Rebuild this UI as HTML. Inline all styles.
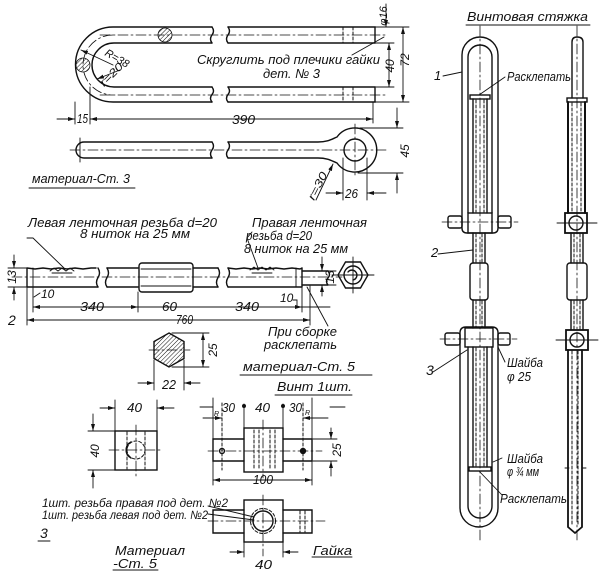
<!DOCTYPE html>
<html><head><meta charset="utf-8"><style>
html,body{margin:0;padding:0;background:#fff;}
svg{display:block;}
text{font-family:"Liberation Sans","DejaVu Sans",sans-serif;font-style:italic;fill:#111;stroke:none;}
.c{stroke-dasharray:10 3 2 3;stroke-width:0.8;}
.d{stroke-dasharray:3 2;stroke-width:1;}
.th{stroke-width:0.9;}
</style></head><body>
<svg width="604" height="579" viewBox="0 0 604 579" xmlns="http://www.w3.org/2000/svg">
<defs>
<marker id="ar" markerUnits="userSpaceOnUse" markerWidth="8" markerHeight="6" refX="7" refY="2" orient="auto-start-reverse"><path d="M0,0 L7,2 L0,4 z" fill="#111"/></marker>
<pattern id="hat" patternUnits="userSpaceOnUse" width="3" height="3" patternTransform="rotate(45)"><line x1="0" y1="0" x2="0" y2="3" stroke="#111" stroke-width="1"/></pattern>
</defs>
<g fill="none" stroke="#111" stroke-width="1.4" stroke-linecap="round">

<!-- ===== Part 1 U-bolt top view ===== -->
<path d="M212,27 H113 A37.5,37.5 0 0 0 113,102 H212"/>
<path d="M212,43 H114 A22,22 0 0 0 114,87 H212"/>
<path d="M212,27 q3,4 0,8 q-3,4 0,8 M212,87 q3,4 0,7.5 q-3,4 0,7.5"/>
<path d="M228,27 q3,4 0,8 q-3,4 0,8 M228,87 q3,4 0,7.5 q-3,4 0,7.5"/>
<path d="M228,27 H375 V43 H228 M228,87 H375 V102 H228"/>
<path class="d" d="M343,27 V43 M353,27 V43 M343,87 V102 M353,87 V102"/>
<path class="c" d="M100,35 H386 M100,95 H386 M113,35 A30,30 0 0 0 113,95"/>
<circle cx="165" cy="35" r="7" fill="url(#hat)" stroke-width="0.8"/>
<circle cx="83" cy="65" r="7" fill="url(#hat)" stroke-width="0.8"/>
<path class="th" d="M113,65 L81,50" marker-end="url(#ar)"/>
<path class="th" d="M120,70 L97,79" marker-end="url(#ar)"/>
<path class="th" d="M75,102 V124 M90,87 V124 M373,102 V123"/>
<path class="th" d="M57,119 H75" marker-end="url(#ar)"/>
<path class="th" d="M90,119 H373" marker-start="url(#ar)" marker-end="url(#ar)"/>
<path class="th" d="M375,27 H409 M375,102 H409 M376,43 H394 M376,87 H394"/>
<path class="th" d="M389,43 V87" marker-start="url(#ar)" marker-end="url(#ar)"/>
<path class="th" d="M403,27 V102" marker-start="url(#ar)" marker-end="url(#ar)"/>
<path class="th" d="M386,4 V27" marker-end="url(#ar)"/>
<path class="th" d="M352,55 L384,37"/>

<!-- ===== eye bolt ===== -->
<path d="M212,142 H84 A8,8 0 0 0 84,158 H212"/>
<path d="M212,142 q3,4 0,8 q-3,4 0,8 M228,142 q3,4 0,8 q-3,4 0,8"/>
<path d="M228,142 H318 C328,142 332,139 337,137 A22,22 0 1 1 337,163 C332,161 328,158 318,158 H228"/>
<circle cx="355" cy="150" r="11"/>
<path class="c" d="M70,150 H386 M355,124 V178"/>
<path class="th" d="M80,138 V162"/>
<path class="th" d="M360,128 H403 M358,173 H403"/>
<path class="th" d="M397,108 V128" marker-end="url(#ar)"/>
<path class="th" d="M397,193 V173" marker-end="url(#ar)"/>
<path class="th" d="M343,158 V200 M367,158 V200"/>
<path class="th" d="M326,193 H343" marker-end="url(#ar)"/>
<path class="th" d="M386,193 H367" marker-end="url(#ar)"/>
<path class="th" d="M316,200 L333,164" marker-end="url(#ar)"/>
<path class="th" d="M29,188 H135"/>

<!-- ===== Part 2 rod ===== -->
<path d="M27,268 l8,1 l8,-1 l8,1 l8,-1 l8,1 l8,-1 l8,1 l8,-1 l5,0 M27,287 H98 M27,268 V287"/>
<path class="th" d="M33,268 V287"/>
<path class="th" d="M50,271 l4,-3 l4,3 l4,-3 l4,3 l4,-3 l4,3 M52,273 h20"/>
<path d="M98,268 q3,5 0,9.5 q-3,5 0,9.5 M107,268 q3,5 0,9.5 q-3,5 0,9.5"/>
<path d="M107,268 H138 M107,287 H138"/>
<rect x="139" y="263" width="54" height="29" rx="3"/>
<path class="th" d="M141,269 H191 M141,286 H191"/>
<path d="M193,268 H218 M193,287 H218"/>
<path d="M218,268 q3,5 0,9.5 q-3,5 0,9.5 M228,268 q3,5 0,9.5 q-3,5 0,9.5"/>
<path d="M228,268 l8,1 l8,-1 l8,1 l8,-1 l8,1 l8,-1 l8,1 l8,-1 l8,1 l2,-1 M228,287 H302 M302,268 V287"/>
<path class="th" d="M296,268 V287"/>
<path class="th" d="M250,270 l4,-3 l4,3 l4,-3 l4,3 l4,-3 l4,3 M252,273 h20"/>
<path d="M302,271 H328 M302,285 H328 M328,271 q3,3.5 0,7 q-3,3.5 0,7"/>
<path class="c" d="M12,277 H342"/>
<path class="th" d="M8,268 H27 M8,287 H27"/>
<path class="th" d="M14,255 V268" marker-end="url(#ar)"/>
<path class="th" d="M14,300 V287" marker-end="url(#ar)"/>
<path class="th" d="M315,271 H336 M315,285 H336"/>
<path class="th" d="M322,257 V271" marker-end="url(#ar)"/>
<path class="th" d="M322,296 V285" marker-end="url(#ar)"/>
<path class="th" d="M27,287 V325 M33,287 V312 M138,292 V312 M302,287 V312 M310,286 V325"/>
<path class="th" d="M33,307 H138" marker-start="url(#ar)" marker-end="url(#ar)"/>
<path class="th" d="M138,307 H302" marker-end="url(#ar)"/>
<path class="th" d="M302,307 H330"/>
<path class="th" d="M27,320 H310" marker-start="url(#ar)" marker-end="url(#ar)"/>
<path class="th" d="M34,297 L40,293 M293,300 h4 v6"/>
<path class="th" d="M27,238 H33 L64,268"/>
<path class="th" d="M252,232 L247,238 L258,268"/>
<path class="th" d="M307,287 L328,326"/>
<path d="M368,275 L360.5,262 L345.5,262 L338,275 L345.5,288 L360.5,288 Z"/>
<circle cx="353" cy="275" r="9"/>
<path d="M348,272 A5,5 0 1 1 353,280"/>
<path class="th" d="M332,275 H374 M353,257 V293"/>
<path d="M169,333 L184,341.5 L184,358.5 L169,367 L154,358.5 L154,341.5 Z" fill="url(#hat)"/>
<path class="c" d="M149,350 H190"/>
<path class="th" d="M172,333 H209 M172,367 H209"/>
<path class="th" d="M203,333 V367" marker-start="url(#ar)" marker-end="url(#ar)"/>
<path class="th" d="M154,360 V390 M184,360 V390"/>
<path class="th" d="M138,383 H154" marker-end="url(#ar)"/>
<path class="th" d="M200,383 H184" marker-end="url(#ar)"/>
<path class="th" d="M240,375 H372"/>
<path class="th" d="M275,395 H352"/>

<!-- ===== Part 3 nuts ===== -->
<rect x="115" y="431" width="42" height="39"/>
<circle cx="136" cy="450" r="9" class="d"/>
<path d="M131,442 A9,9 0 0 0 131,458"/>
<path class="d" d="M127,432 V469 M145,432 V469"/>
<path class="c" d="M109,450 H163 M136,425 V477"/>
<path class="th" d="M115,400 V431 M157,400 V431"/>
<path class="th" d="M100,408 H115" marker-end="url(#ar)"/>
<path class="th" d="M174,408 H157" marker-end="url(#ar)"/>
<path class="th" d="M88,431 H115 M88,470 H115"/>
<path class="th" d="M93,414 V431" marker-end="url(#ar)"/>
<path class="th" d="M93,488 V470" marker-end="url(#ar)"/>

<rect x="244" y="428" width="39" height="44"/>
<path d="M244,439 H213 V461 H244 M283,439 H312 V461 H283"/>
<path class="d" d="M254,430 V470 M259,430 V470 M270,430 V470 M275,430 V470"/>
<circle cx="222" cy="451" r="2.5"/>
<circle cx="303" cy="451" r="2.5" fill="#111"/>
<path class="c" d="M208,451 H322 M263,420 V478"/>
<path class="d" d="M222,403 V470 M303,403 V470"/>
<path class="th" d="M213,398 V485 M312,398 V485 M244,404 V428 M283,404 V428"/>
<path class="th" d="M200,407 H213 M330,407 H345"/>
<circle cx="244" cy="406" r="1.3" fill="#111"/>
<circle cx="283" cy="406" r="1.3" fill="#111"/>
<path class="th" d="M203,418 H222" marker-end="url(#ar)"/>
<path class="th" d="M328,418 H303" marker-end="url(#ar)"/>
<path class="th" d="M313,439 H337 M313,461 H337"/>
<path class="th" d="M331,428 V439" marker-end="url(#ar)"/>
<path class="th" d="M331,476 V461" marker-end="url(#ar)"/>
<path class="th" d="M213,480 H312" marker-start="url(#ar)" marker-end="url(#ar)"/>

<rect x="244" y="500" width="39" height="42"/>
<path d="M244,510 H213 V533 H244 M283,510 H312 V533 H283"/>
<circle cx="263" cy="521" r="10"/>
<circle cx="263" cy="521" r="12.5" class="d"/>
<path class="d" d="M300,511 V532 M305,511 V532"/>
<path class="c" d="M208,521 H325 M263,495 V556"/>
<path class="th" d="M208,506 L254,517 M208,514 L254,520"/>
<path class="th" d="M244,542 V557 M283,542 V557"/>
<path class="th" d="M230,552 H244" marker-end="url(#ar)"/>
<path class="th" d="M298,552 H283" marker-end="url(#ar)"/>
<path class="th" d="M38,541 H50 M113,570 H158 M312,557 H352"/>

<!-- ===== Assembly front view ===== -->
<path class="th" d="M466,25 H590"/>
<path d="M462,228 V55 A18,18 0 0 1 498,55 V228 Q498,233 493,233 H467 Q462,233 462,228"/>
<path d="M468,213 V57 A12,12 0 0 1 492,57 V213"/>
<rect x="468" y="213" width="24" height="20"/>
<rect x="448" y="216" width="14" height="12" rx="2"/>
<rect x="498" y="216" width="13" height="12" rx="2"/>
<path class="c" d="M442,222 H518"/>
<path d="M473,99 V213 M487,99 V213"/>
<rect x="470" y="95" width="20" height="4"/>
<path class="d" d="M476,100 V212 M484,100 V212" stroke-width="1.8"/>
<path d="M473,233 V263 M485,233 V263"/>
<rect x="470" y="263" width="18" height="37" rx="3"/>
<path d="M473,300 V328 M485,300 V328"/>
<path class="d" d="M476,234 V262 M482,234 V262 M476,301 V327 M482,301 V327" stroke-width="1.6"/>
<path d="M460,333 Q460,327 466,327 H492 Q498,327 498,333 V508 A19,19 0 0 1 460,508 Z"/>
<path d="M468,347 V506 A12,12 0 0 0 492,506 V347"/>
<rect x="465" y="328" width="28" height="19"/>
<rect x="445" y="333" width="15" height="12" rx="2"/>
<rect x="498" y="333" width="12" height="12" rx="2"/>
<path class="c" d="M440,339 H517"/>
<path d="M473,347 V467 M487,347 V467"/>
<rect x="469" y="467" width="22" height="4"/>
<path class="d" d="M476,348 V466 M484,348 V466" stroke-width="1.6"/>
<path class="c" d="M480,26 V540"/>
<path class="th" d="M443,76 L462,72 M438,254 L473,250 M433,372 L467,350"/>
<path class="th" d="M505,77 L479,95 M505,362 L498,347 M502,458 L493,462 M502,495 L479,471"/>

<!-- ===== Assembly side view ===== -->
<path d="M572,98 V42 Q572,37 577,37 Q583,37 583,42 V98"/>
<rect x="567" y="98" width="20" height="4"/>
<path d="M568,102 V213 M585,102 V213" stroke-width="2"/>
<path class="d" d="M572,103 V212 M581,103 V212" stroke-width="2.4"/>
<rect x="565" y="213" width="22" height="20" stroke-width="1.8"/>
<circle cx="576" cy="223" r="7"/>
<path class="th" d="M557,223 H597"/>
<path d="M571,233 V263 M583,233 V263"/>
<path class="d" d="M574,234 V262 M580,234 V262" stroke-width="1.8"/>
<rect x="567" y="263" width="20" height="37" rx="3"/>
<path d="M571,300 V330 M583,300 V330"/>
<path class="d" d="M574,301 V329 M580,301 V329" stroke-width="1.8"/>
<rect x="566" y="330" width="22" height="20" stroke-width="1.8"/>
<circle cx="577" cy="340" r="7"/>
<path class="th" d="M556,340 H598"/>
<path d="M568,350 V527 L575,533 L582,527 V350" stroke-width="1.8"/>
<path class="d" d="M572,351 V525 M578,351 V525" stroke-width="1.8"/>
<path class="th" d="M565,468 H569 M582,468 H586"/>
<path class="c" d="M577,26 V540"/>
</g>

<!-- ===== TEXT ===== -->
<g font-size="13">
<text x="197" y="64" textLength="183" lengthAdjust="spacingAndGlyphs">Скруглить под плечики гайки</text>
<text x="263" y="78" textLength="57" lengthAdjust="spacingAndGlyphs">дет. № 3</text>
<text transform="translate(387,16) rotate(-90)" text-anchor="middle" font-size="11">φ16</text>
<text transform="translate(394,66) rotate(-90)" text-anchor="middle" font-size="12">40</text>
<text transform="translate(409,60) rotate(-90)" text-anchor="middle" font-size="12">72</text>
<text transform="translate(104,55) rotate(30)" font-size="11" textLength="26" lengthAdjust="spacingAndGlyphs">R=38</text>
<text transform="translate(104,87) rotate(-45)" font-size="11" textLength="28" lengthAdjust="spacingAndGlyphs">r=20</text>
<text x="77" y="123" textLength="11" lengthAdjust="spacingAndGlyphs">15</text>
<text x="232" y="124" textLength="23" lengthAdjust="spacingAndGlyphs">390</text>
<text transform="translate(409,151) rotate(-90)" text-anchor="middle" font-size="12">45</text>
<text transform="translate(314,201) rotate(-63)" font-size="11" textLength="30" lengthAdjust="spacingAndGlyphs">r=30</text>
<text x="345" y="198" textLength="13" lengthAdjust="spacingAndGlyphs">26</text>
<text x="32" y="183" textLength="98" lengthAdjust="spacingAndGlyphs">материал-Ст. 3</text>

<text x="28" y="227" textLength="189" lengthAdjust="spacingAndGlyphs">Левая ленточная резьба d=20</text>
<text x="80" y="238" textLength="110" lengthAdjust="spacingAndGlyphs">8 ниток на 25 мм</text>
<text x="252" y="227" textLength="115" lengthAdjust="spacingAndGlyphs">Правая ленточная</text>
<text x="246" y="240" textLength="66" lengthAdjust="spacingAndGlyphs">резьба d=20</text>
<text x="244" y="253" textLength="104" lengthAdjust="spacingAndGlyphs">8 ниток на 25 мм</text>
<text transform="translate(16,277) rotate(-90)" text-anchor="middle" font-size="12">13</text>
<text transform="translate(334,277) rotate(-90)" text-anchor="middle" font-size="12">13</text>
<text x="41" y="298" font-size="12">10</text>
<text x="80" y="311" textLength="24" lengthAdjust="spacingAndGlyphs">340</text>
<text x="162" y="311" textLength="15" lengthAdjust="spacingAndGlyphs">60</text>
<text x="235" y="311" textLength="24" lengthAdjust="spacingAndGlyphs">340</text>
<text x="280" y="302" font-size="12">10</text>
<text x="8" y="325" font-size="14">2</text>
<text x="176" y="324" textLength="17" lengthAdjust="spacingAndGlyphs">760</text>
<text x="268" y="336" textLength="69" lengthAdjust="spacingAndGlyphs">При сборке</text>
<text x="264" y="349" textLength="73" lengthAdjust="spacingAndGlyphs">расклепать</text>
<text transform="translate(217,350) rotate(-90)" text-anchor="middle" font-size="12">25</text>
<text x="162" y="389" textLength="14" lengthAdjust="spacingAndGlyphs">22</text>
<text x="243" y="371" textLength="112" lengthAdjust="spacingAndGlyphs">материал-Ст. 5</text>
<text x="277" y="391" textLength="75" lengthAdjust="spacingAndGlyphs">Винт 1шт.</text>

<text x="127" y="412" textLength="15" lengthAdjust="spacingAndGlyphs">40</text>
<text transform="translate(99,451) rotate(-90)" text-anchor="middle" font-size="12">40</text>
<text x="222" y="412" textLength="13" lengthAdjust="spacingAndGlyphs">30</text>
<text x="255" y="412" textLength="15" lengthAdjust="spacingAndGlyphs">40</text>
<text x="289" y="412" textLength="13" lengthAdjust="spacingAndGlyphs">30</text>
<text x="214" y="416" font-size="7">R</text>
<text x="305" y="415" font-size="7">R</text>
<text transform="translate(341,450) rotate(-90)" text-anchor="middle" font-size="12">25</text>
<text x="253" y="484" textLength="20" lengthAdjust="spacingAndGlyphs">100</text>
<text x="42" y="507" font-size="12" textLength="186" lengthAdjust="spacingAndGlyphs">1шт. резьба правая под дет. №2</text>
<text x="42" y="519" font-size="12" textLength="166" lengthAdjust="spacingAndGlyphs">1шт. резьба левая под дет. №2</text>
<text x="40" y="538" font-size="14">3</text>
<text x="115" y="555" textLength="70" lengthAdjust="spacingAndGlyphs">Материал</text>
<text x="113" y="568" textLength="44" lengthAdjust="spacingAndGlyphs">-Ст. 5</text>
<text x="313" y="555" textLength="39" lengthAdjust="spacingAndGlyphs">Гайка</text>
<text x="255" y="569" textLength="17" lengthAdjust="spacingAndGlyphs">40</text>

<text x="467" y="21" textLength="121" lengthAdjust="spacingAndGlyphs">Винтовая стяжка</text>
<text x="434" y="80" font-size="13">1</text>
<text x="507" y="81" textLength="64" lengthAdjust="spacingAndGlyphs">Расклепать</text>
<text x="431" y="257" font-size="13">2</text>
<text x="426" y="375" font-size="14">3</text>
<text x="507" y="367" textLength="36" lengthAdjust="spacingAndGlyphs">Шайба</text>
<text x="507" y="381" textLength="24" lengthAdjust="spacingAndGlyphs">φ 25</text>
<text x="507" y="463" textLength="36" lengthAdjust="spacingAndGlyphs">Шайба</text>
<text x="507" y="476" textLength="32" lengthAdjust="spacingAndGlyphs">φ ¾ мм</text>
<text x="500" y="503" textLength="67" lengthAdjust="spacingAndGlyphs">Расклепать</text>
</g>
</svg>
</body></html>
